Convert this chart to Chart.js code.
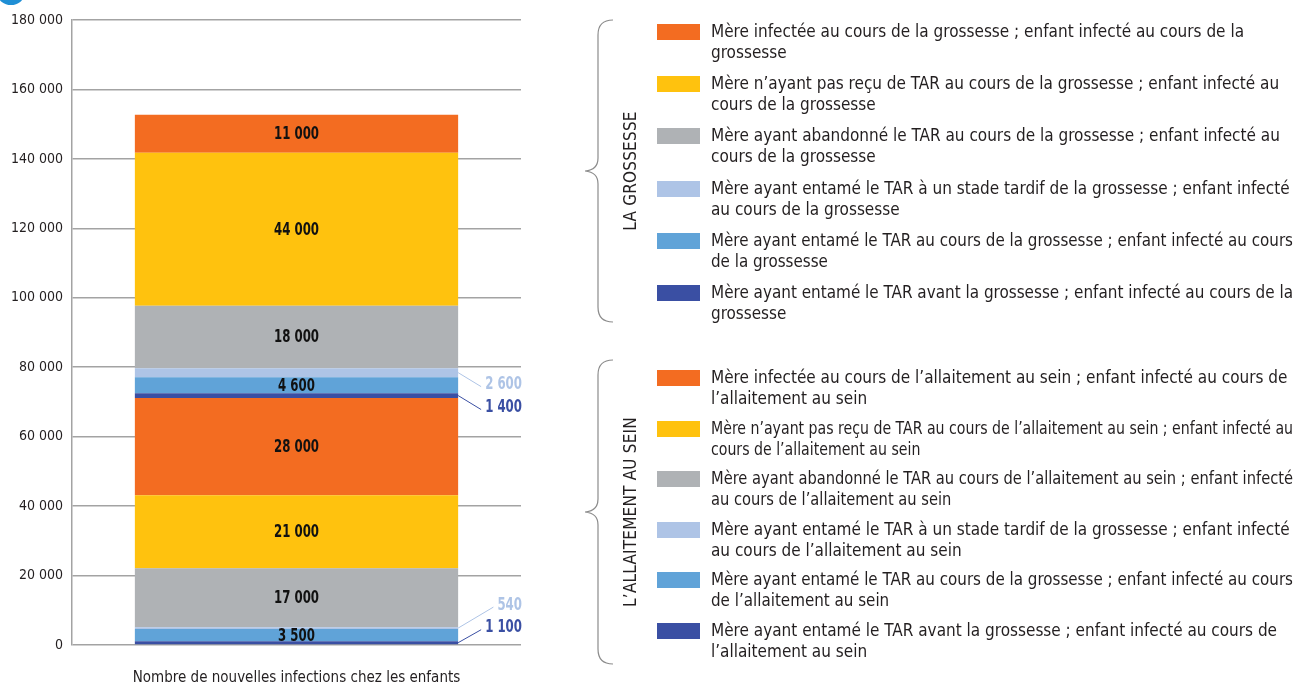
<!DOCTYPE html>
<html lang="fr">
<head>
<meta charset="utf-8">
<title>Nouvelles infections chez les enfants</title>
<script src="https://cdn.jsdelivr.net/npm/chart.js@4.4.1/dist/chart.umd.min.js"></script>
<style>
  html, body { margin: 0; padding: 0; background: #fff; }
  body {
    width: 1295px; height: 684px; position: relative; overflow: hidden;
    font-family: "Liberation Sans Narrow", "DejaVu Sans Condensed", "Liberation Sans", sans-serif;
    color: #231f20;
  }
  #chartBox { position: absolute; left: 0; top: 0; width: 560px; height: 684px; }
  .dot { position: absolute; left: -2px; top: -16px; width: 26px; height: 21px; border-radius: 50%; background: #1f8fd5; }
  .swatch { position: absolute; left: 657px; width: 43px; height: 16px; }
  .ltext { position: absolute; left: 711px; font-size: 17px; line-height: 21px; white-space: pre; transform-origin: 0 0; }
  .group { position: absolute; left: 630px; font-size: 17px; white-space: nowrap;
           transform: translate(-50%, -50%) rotate(-90deg); letter-spacing: 0.2px; }
  svg { position: absolute; left: 0; top: 0; }
</style>
</head>
<body>
<div class="dot"></div>
<div id="chartBox"><canvas id="chart" width="560" height="684"></canvas></div>
<svg width="1295" height="684" id="braces"></svg>
<div id="legend"></div>

<script>
// ---- données ----
const categories = ["Nombre de nouvelles infections chez les enfants"];
const groupNames = ["LA GROSSESSE", "L\u2019ALLAITEMENT AU SEIN"];

// ordre de la légende (haut -> bas)
const grossesseLabels = [
  "Mère infectée au cours de la grossesse ; enfant infecté au cours de la\ngrossesse",
  "Mère n\u2019ayant pas reçu de TAR au cours de la grossesse ; enfant infecté au\ncours de la grossesse",
  "Mère ayant abandonné le TAR au cours de la grossesse ; enfant infecté au\ncours de la grossesse",
  "Mère ayant entamé le TAR à un stade tardif de la grossesse ; enfant infecté\nau cours de la grossesse",
  "Mère ayant entamé le TAR au cours de la grossesse ; enfant infecté au cours\nde la grossesse",
  "Mère ayant entamé le TAR avant la grossesse ; enfant infecté au cours de la\ngrossesse"
];
const grossesseValues = [11000, 44000, 18000, 2600, 4600, 1400];

const allaitementLabels = [
  "Mère infectée au cours de l\u2019allaitement au sein ; enfant infecté au cours de\nl\u2019allaitement au sein",
  "Mère n\u2019ayant pas reçu de TAR au cours de l\u2019allaitement au sein ; enfant infecté au\ncours de l\u2019allaitement au sein",
  "Mère ayant abandonné le TAR au cours de l\u2019allaitement au sein ; enfant infecté\nau cours de l\u2019allaitement au sein",
  "Mère ayant entamé le TAR à un stade tardif de la grossesse ; enfant infecté\nau cours de l\u2019allaitement au sein",
  "Mère ayant entamé le TAR au cours de la grossesse ; enfant infecté au cours\nde l\u2019allaitement au sein",
  "Mère ayant entamé le TAR avant la grossesse ; enfant infecté au cours de\nl\u2019allaitement au sein"
];
const allaitementValues = [28000, 21000, 17000, 540, 3500, 1100];

const yTicks = [0, 20000, 40000, 60000, 80000, 100000, 120000, 140000, 160000, 180000];

// ---- styles ----
const COLORS = ["#f36c21", "#ffc20e", "#afb2b5", "#aec4e6", "#60a3d8", "#3a4fa3"];
const GRID = "#a3a3a3";
const FONT = '"Liberation Sans Narrow", "DejaVu Sans Condensed", "Liberation Sans", sans-serif';
const SQUEEZE = 0.77; // police étroite simulée pour les valeurs
// décalage vertical des étiquettes placées hors de la barre (null = dans la barre)
const CALLOUT_DY = [null, null, null, 12, null, 12];
const CALLOUT_DY2 = [null, null, null, -23, null, -15];

function fmt(n) {
  return String(n).replace(/\B(?=(\d{3})+(?!\d))/g, " ");
}

// empilement : la première série est en bas
const datasets = [];
function pushGroup(labels, values, dys) {
  for (let i = labels.length - 1; i >= 0; i--) {
    datasets.push({
      label: labels[i].replace("\n", " "),
      data: [values[i]],
      backgroundColor: COLORS[i],
      borderWidth: 0,
      callout: dys[i]
    });
  }
}
pushGroup(allaitementLabels, allaitementValues, CALLOUT_DY2);
pushGroup(grossesseLabels, grossesseValues, CALLOUT_DY);

function squeezedText(ctx, txt, x, y, align) {
  const w = ctx.measureText(txt).width * SQUEEZE;
  const left = align === "center" ? x - w / 2 : align === "right" ? x - w : x;
  ctx.save();
  ctx.translate(left, y);
  ctx.scale(SQUEEZE, 1);
  ctx.textAlign = "left";
  ctx.textBaseline = "middle";
  ctx.fillText(txt, 0, 0);
  ctx.restore();
  return w;
}

const segmentLabels = {
  id: "segmentLabels",
  afterDatasetsDraw(chart) {
    const { ctx } = chart;
    ctx.save();
    ctx.font = "bold 17px " + FONT;
    chart.data.datasets.forEach((ds, i) => {
      const bar = chart.getDatasetMeta(i).data[0];
      const mid = (bar.y + bar.base) / 2;
      const txt = fmt(ds.data[0]);
      if (ds.callout == null) {
        ctx.fillStyle = "#111";
        squeezedText(ctx, txt, bar.x, mid + 1, "center");
      } else {
        const right = bar.x + bar.width / 2;
        const ly = mid + ds.callout;
        const tx = chart.chartArea.right + 1;
        const w = ctx.measureText(txt).width * SQUEEZE;
        ctx.strokeStyle = ds.backgroundColor;
        ctx.lineWidth = 1;
        ctx.beginPath();
        ctx.moveTo(right, mid);
        ctx.lineTo(tx - w - 4, ly + 2);
        ctx.stroke();
        ctx.fillStyle = ds.backgroundColor;
        squeezedText(ctx, txt, tx, ly, "right");
      }
    });
    ctx.restore();
  }
};

new Chart(document.getElementById("chart"), {
  type: "bar",
  data: { labels: categories, datasets },
  options: {
    responsive: false,
    animation: false,
    layout: { padding: { top: 20, right: 39, left: 0, bottom: 0 } },
    plugins: { legend: { display: false }, tooltip: { enabled: false } },
    datasets: { bar: { barPercentage: 0.72, categoryPercentage: 1 } },
    scales: {
      x: {
        stacked: true,
        grid: { display: false },
        border: { display: false },
        ticks: { display: false },
        title: { display: true, text: categories[0], color: "#231f20",
                 font: { family: FONT, size: 15 }, padding: { top: 0, bottom: -3 } },
        afterFit: s => { s.height = 39; }
      },
      y: {
        stacked: true,
        min: 0, max: 180000,
        afterBuildTicks: s => { s.ticks = yTicks.map(v => ({ value: v })); },
        ticks: { callback: v => fmt(v), color: "#231f20", padding: 9,
                 font: { family: FONT, size: 14 } },
        grid: { color: GRID, lineWidth: 1.5, drawTicks: false },
        border: { display: true, color: GRID, width: 1.5 },
        afterFit: s => { s.width = 72; }
      }
    }
  },
  plugins: [segmentLabels]
});

// ---- légende (HTML) ----
const legend = document.getElementById("legend");
const MAX_TEXT_W = 582;
function addGroup(labels, top, step, name, braceTop, braceBottom) {
  labels.forEach((lab, i) => {
    const y = top + i * step;
    const sw = document.createElement("div");
    sw.className = "swatch";
    sw.style.top = y + "px";
    sw.style.background = COLORS[i];
    legend.appendChild(sw);
    const t = document.createElement("div");
    t.className = "ltext";
    t.style.top = (y - 3) + "px";
    t.textContent = lab;
    legend.appendChild(t);
    const w = t.getBoundingClientRect().width;
    if (w > MAX_TEXT_W) t.style.transform = `scaleX(${MAX_TEXT_W / w})`;
  });
  const g = document.createElement("div");
  g.className = "group";
  g.style.top = ((braceTop + braceBottom) / 2) + "px";
  g.textContent = name;
  legend.appendChild(g);

  const m = (braceTop + braceBottom) / 2;
  const p = document.createElementNS("http://www.w3.org/2000/svg", "path");
  p.setAttribute("d",
    `M613 ${braceTop} Q598 ${braceTop} 598 ${braceTop + 15} L598 ${m - 13} Q598 ${m - 1} 585 ${m}` +
    ` Q598 ${m + 1} 598 ${m + 13} L598 ${braceBottom - 15} Q598 ${braceBottom} 613 ${braceBottom}`);
  p.setAttribute("fill", "none");
  p.setAttribute("stroke", "#8c8c8c");
  p.setAttribute("stroke-width", "1.2");
  document.getElementById("braces").appendChild(p);
}
addGroup(grossesseLabels, 24, 52.2, groupNames[0], 20, 322);
addGroup(allaitementLabels, 370, 50.5, groupNames[1], 360, 664);
</script>
</body>
</html>
